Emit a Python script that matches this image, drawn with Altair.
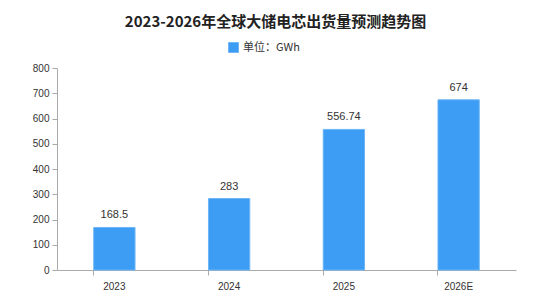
import altair as alt
import pandas as pd

years = ["2023", "2024", "2025", "2026E"]
values = [168.5, 283, 556.74, 674]
labels = ["168.5", "283", "556.74", "674"]
series = ["单位：GWh"] * 4

df = pd.DataFrame({"year": years, "value": values, "label": labels, "series": series})

FONT = "Noto Sans CJK SC"
NUMFONT = "Liberation Sans, Noto Sans CJK SC"

base = alt.Chart(df).encode(
    x=alt.X("year:N", sort=years, title=None,
            scale=alt.Scale(paddingInner=0.64, paddingOuter=0.32),
            axis=alt.Axis(labelAngle=0, bandPosition=0, domainColor="#aaaaaa", tickColor="#aaaaaa",
                          labelFont=NUMFONT, labelFontSize=10, labelColor="#333333", labelPadding=6,
                          tickSize=5, grid=False)),
    y=alt.Y("value:Q", title=None,
            scale=alt.Scale(domain=[0, 800]),
            axis=alt.Axis(values=[0, 100, 200, 300, 400, 500, 600, 700, 800], grid=False,
                          labelOverlap=False,
                          domainColor="#aaaaaa", tickColor="#aaaaaa", tickSize=5,
                          labelFont=NUMFONT, labelFontSize=10, labelColor="#333333", labelPadding=3)),
)

bars = base.mark_bar(color="#3d9cf3", stroke="#6cb6f7", strokeWidth=1).encode(
    color=alt.Color("series:N", scale=alt.Scale(range=["#3d9cf3"]),
                    legend=alt.Legend(title=None, orient="none", legendX=171, legendY=-26,
                                      symbolType="square", symbolSize=110, labelFont=FONT,
                                      labelFontSize=11, labelColor="#333333", symbolStrokeWidth=0))
)

text = base.mark_text(dy=-12, font=NUMFONT, fontSize=11, color="#333333").encode(
    text="label:N"
)

chart = (bars + text).properties(
    width=459, height=202,
    padding={"left": 57, "top": 68, "right": 34, "bottom": 27},
    autosize=alt.AutoSizeParams(type="none"),
    title=alt.TitleParams("2023-2026年全球大储电芯出货量预测趋势图", font=FONT, fontSize=15,
                          fontWeight="bold", color="#222222", anchor="middle", dx=-11, offset=12),
).configure_view(stroke=None)

chart.save("out.html", embed_options={"renderer": "svg", "actions": False})
